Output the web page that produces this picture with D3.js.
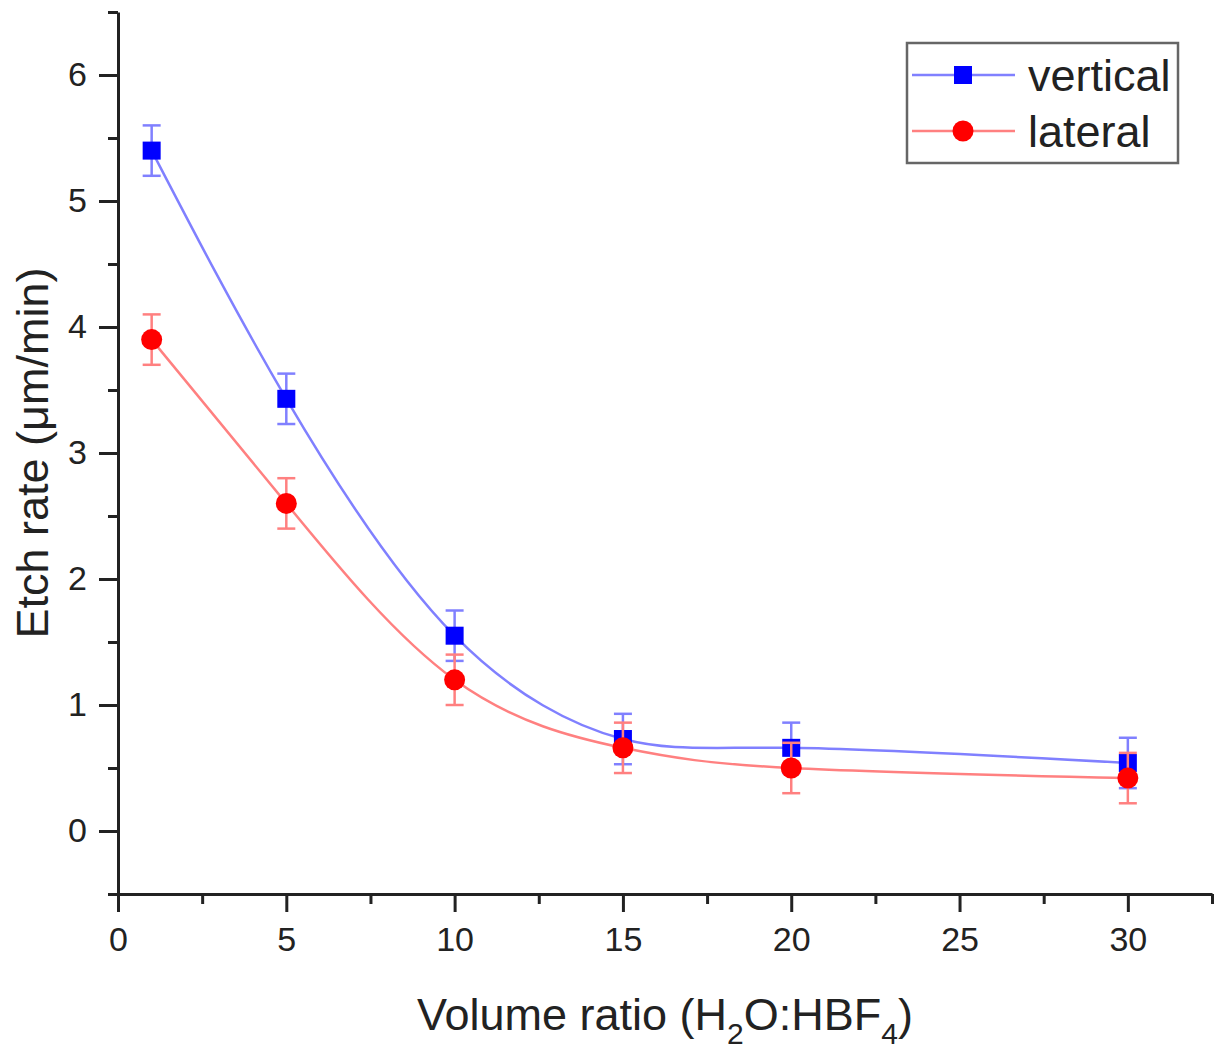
<!DOCTYPE html>
<html>
<head>
<meta charset="utf-8">
<script src="https://cdn.jsdelivr.net/npm/d3@7"></script>
<style>
  body { margin: 0; background: #fff; }
  text { font-family: "Liberation Sans", Arial, sans-serif; fill: #222; }
</style>
</head>
<body>
<svg width="1223" height="1053"></svg>
<script>
const svg = d3.select('svg')

// data
const ratios = [1, 5, 10, 15, 20, 30]
const vertical = [5.40, 3.43, 1.55, 0.73, 0.66, 0.54]
const verticalErr = [0.2, 0.2, 0.2, 0.2, 0.2, 0.2]
const lateral = [3.90, 2.60, 1.20, 0.66, 0.50, 0.42]
const lateralErr = [0.2, 0.2, 0.2, 0.2, 0.2, 0.2]
const xTicks = [0, 5, 10, 15, 20, 25, 30]
const yTicks = [0, 1, 2, 3, 4, 5, 6]

const x = d3.scaleLinear().domain([0, 32.5]).range([118, 1212])
const y = d3.scaleLinear().domain([-0.5, 6.5]).range([894, 12])

const axisColor = '#222'

// minor ticks
const xMinor = d3.range(2.5, 33, 5)
const yMinor = d3.range(-0.5, 6.6, 1)

const styleAxis = g => {
    g.attr('font-size', 34).attr('font-family', '"Liberation Sans", Arial, sans-serif')
    g.select('.domain').attr('stroke', axisColor).attr('stroke-width', 3)
    g.selectAll('.tick line').attr('stroke', axisColor).attr('stroke-width', 3)
    g.selectAll('.tick text').attr('fill', '#222')
}

svg.append('g')
    .attr('transform', `translate(0, ${y(-0.5)})`)
    .call(d3.axisBottom(x).tickValues(xMinor).tickSize(10).tickFormat('').tickSizeOuter(0))
    .call(styleAxis)
svg.append('g')
    .attr('transform', `translate(0, ${y(-0.5)})`)
    .call(d3.axisBottom(x).tickValues(xTicks).tickFormat(d3.format('d')).tickSize(18).tickPadding(15).tickSizeOuter(0))
    .call(styleAxis)
    .call(g => g.select('.domain').remove())

svg.append('g')
    .attr('transform', `translate(${x(0)}, 0)`)
    .call(d3.axisLeft(y).tickValues(yMinor).tickSize(10).tickFormat('').tickSizeOuter(0))
    .call(styleAxis)
svg.append('g')
    .attr('transform', `translate(${x(0)}, 0)`)
    .call(d3.axisLeft(y).tickValues(yTicks).tickFormat(d3.format('d')).tickSize(19).tickPadding(12).tickSizeOuter(0))
    .call(styleAxis)
    .call(g => g.select('.domain').remove())

// axis titles
const xt = svg.append('text')
    .attr('x', (x.range()[0] + x.range()[1]) / 2)
    .attr('y', 1030)
    .attr('text-anchor', 'middle')
    .attr('font-size', 45)
xt.append('tspan').text('Volume ratio (H')
xt.append('tspan').text('2').attr('font-size', 30).attr('dy', 14)
xt.append('tspan').text('O:HBF').attr('dy', -14)
xt.append('tspan').text('4').attr('font-size', 30).attr('dy', 14)
xt.append('tspan').text(')').attr('dy', -14)

svg.append('text')
    .attr('transform', `translate(48, ${(y.range()[0] + y.range()[1]) / 2}) rotate(-90)`)
    .attr('text-anchor', 'middle')
    .attr('font-size', 45)
    .text('Etch rate (μm/min)')

const series = [
    { name: 'vertical', values: vertical, err: verticalErr, line: '#8080ff', mark: '#0000ff', shape: 'square' },
    { name: 'lateral', values: lateral, err: lateralErr, line: '#ff8080', mark: '#ff0000', shape: 'circle' }
]

const line = d3.line()
    .x(d => x(d[0]))
    .y(d => y(d[1]))
    .curve(d3.curveNatural)

const drawMarker = (g, shape, color) => {
    if (shape === 'square') {
        g.append('rect').attr('x', -9).attr('y', -9).attr('width', 18).attr('height', 18).attr('fill', color)
    } else {
        g.append('circle').attr('r', 10.5).attr('fill', color)
    }
}

series.forEach(s => {
    const pts = ratios.map((r, i) => [r, s.values[i], s.err[i]])
    const g = svg.append('g')

    g.append('path')
        .datum(pts)
        .attr('d', line)
        .attr('fill', 'none')
        .attr('stroke', s.line)
        .attr('stroke-width', 2.5)

    const eb = g.selectAll('.err').data(pts).enter().append('g')
        .attr('stroke', s.line)
        .attr('stroke-width', 2.5)
    eb.append('line')
        .attr('x1', d => x(d[0])).attr('x2', d => x(d[0]))
        .attr('y1', d => y(d[1] + d[2])).attr('y2', d => y(d[1] - d[2]))
    eb.append('line')
        .attr('x1', d => x(d[0]) - 9).attr('x2', d => x(d[0]) + 9)
        .attr('y1', d => y(d[1] + d[2])).attr('y2', d => y(d[1] + d[2]))
    eb.append('line')
        .attr('x1', d => x(d[0]) - 9).attr('x2', d => x(d[0]) + 9)
        .attr('y1', d => y(d[1] - d[2])).attr('y2', d => y(d[1] - d[2]))

    g.selectAll('.mk').data(pts).enter().append('g')
        .attr('transform', d => `translate(${x(d[0])}, ${y(d[1])})`)
        .each(function () { drawMarker(d3.select(this), s.shape, s.mark) })
})

// legend
const legend = svg.append('g').attr('transform', 'translate(907, 43)')
legend.append('rect')
    .attr('width', 271).attr('height', 120)
    .attr('fill', '#fff')
    .attr('stroke', '#666')
    .attr('stroke-width', 2.5)

series.forEach((s, i) => {
    const row = legend.append('g').attr('transform', `translate(0, ${32 + i * 56})`)
    row.append('line')
        .attr('x1', 5).attr('x2', 108)
        .attr('stroke', s.line).attr('stroke-width', 2.5)
    const m = row.append('g').attr('transform', 'translate(56, 0)')
    drawMarker(m, s.shape, s.mark)
    row.append('text')
        .attr('x', 121).attr('y', 16)
        .attr('font-size', 45)
        .text(s.name)
})
</script>
</body>
</html>
